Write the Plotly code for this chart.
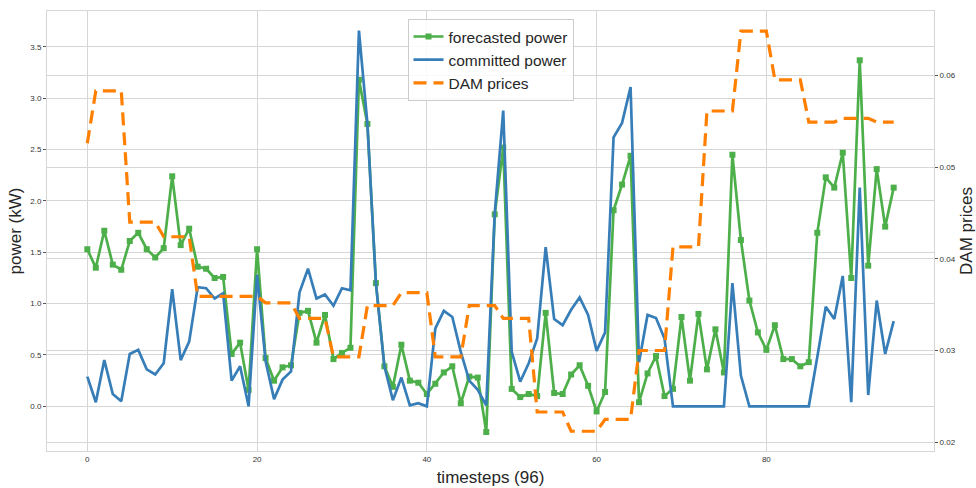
import plotly.graph_objects as go

# 96 quarter-hour timesteps
timesteps = list(range(96))

forecasted_power = [
    1.53, 1.35, 1.71, 1.38, 1.33, 1.61, 1.69, 1.53, 1.45, 1.54,
    2.24, 1.57, 1.73, 1.36, 1.34, 1.25, 1.26, 0.51, 0.62, 0.16,
    1.53, 0.47, 0.25, 0.38, 0.40, 0.91, 0.93, 0.62, 0.89, 0.46,
    0.52, 0.57, 3.18, 2.75, 1.20, 0.39, 0.19, 0.60, 0.25, 0.23,
    0.12, 0.22, 0.33, 0.39, 0.03, 0.29, 0.28, -0.25, 1.87, 2.52,
    0.17, 0.09, 0.12, 0.10, 0.91, 0.13, 0.12, 0.31, 0.40, 0.20,
    -0.05, 0.14, 1.91, 2.16, 2.44, 0.04, 0.32, 0.49, 0.10, 0.17,
    0.87, 0.25, 0.90, 0.36, 0.75, 0.33, 2.45, 1.62, 1.03, 0.72,
    0.55, 0.79, 0.46, 0.46, 0.39, 0.43, 1.69, 2.23, 2.13, 2.47,
    1.25, 3.37, 1.37, 2.31, 1.75, 2.13,
]

committed_power = [
    0.29, 0.04, 0.45, 0.12, 0.05, 0.51, 0.55, 0.36, 0.31, 0.42,
    1.14, 0.45, 0.63, 1.16, 1.15, 1.05, 1.10, 0.25, 0.39, 0.00,
    1.28, 0.44, 0.07, 0.26, 0.34, 1.11, 1.34, 1.05, 1.09, 0.98,
    1.15, 1.13, 3.66, 2.75, 1.20, 0.39, 0.06, 0.28, 0.01, 0.03,
    0.00, 0.76, 0.93, 0.87, 0.53, 0.25, 0.16, 0.01, 1.88, 2.88,
    0.53, 0.24, 0.42, 0.66, 1.55, 0.85, 0.79, 0.94, 1.06, 0.89,
    0.54, 0.72, 2.62, 2.76, 3.11, 0.43, 0.89, 0.86, 0.66, 0.00,
    0.00, 0.00, 0.00, 0.00, 0.00, 0.00, 1.20, 0.30, 0.00, 0.00,
    0.00, 0.00, 0.00, 0.00, 0.00, 0.00, 0.48, 0.97, 0.85, 1.27,
    0.04, 2.13, 0.11, 1.03, 0.51, 0.83,
]

# Day-ahead market prices, one value per hour (timestep 0 belongs to the previous hour)
first_price = [0.0526]
hourly_prices = [
    0.0583, 0.0440, 0.0424, 0.0359, 0.0359, 0.0352, 0.0335, 0.0293,
    0.0349, 0.0363, 0.0293, 0.0349, 0.0335, 0.0233, 0.0212, 0.0225,
    0.0300, 0.0413, 0.0561, 0.0648, 0.0595, 0.0549, 0.0553, 0.0549,
]
dam_prices = (first_price + [p for p in hourly_prices for _ in range(4)])[:96]

power_ticks = [0.0, 0.5, 1.0, 1.5, 2.0, 2.5, 3.0, 3.5]
price_ticks = [0.02, 0.03, 0.04, 0.05, 0.06]
step_ticks = [0, 20, 40, 60, 80]

GREEN = "#4daf4a"
BLUE = "#377eb8"
ORANGE = "#ff7f00"
GRID = "#d6d6d6"
FONT = "Liberation Sans, Arial, sans-serif"
TEXT = "#262626"

fig = go.Figure()

fig.add_trace(go.Scatter(
    x=timesteps, y=forecasted_power, name="forecasted power",
    mode="lines+markers",
    line=dict(color=GREEN, width=2.7),
    marker=dict(symbol="square", size=6, color=GREEN),
))
fig.add_trace(go.Scatter(
    x=timesteps, y=committed_power, name="committed power",
    mode="lines",
    line=dict(color=BLUE, width=2.7),
))
fig.add_trace(go.Scatter(
    x=timesteps, y=dam_prices, name="DAM prices",
    mode="lines", yaxis="y2",
    line=dict(color=ORANGE, width=3.2, dash="13px,7px"),
))

axis_common = dict(
    showgrid=True, gridcolor=GRID, gridwidth=1, zeroline=False,
    automargin=False,
    tickfont=dict(family=FONT, size=8, color="#333333"),
)

fig.update_layout(
    width=976, height=488,
    margin=dict(l=47, r=42, t=11, b=37),
    paper_bgcolor="white", plot_bgcolor="white",
    font=dict(family=FONT, color=TEXT),
    showlegend=True,
    legend=dict(
        x=0.5, y=0.982, xanchor="center", yanchor="top",
        bgcolor="rgba(255,255,255,0.85)", bordercolor="#cccccc", borderwidth=1,
        font=dict(family=FONT, size=15.5, color=TEXT),
        tracegroupgap=0, itemwidth=30,
    ),
    xaxis=dict(
        range=[-4.75, 99.75], tickvals=step_ticks,
        title=dict(text="timesteps (96)", font=dict(family=FONT, size=17, color=TEXT), standoff=8),
        showline=True, linecolor=GRID, linewidth=1, mirror=True,
        ticks="", ticklen=0,
        **axis_common,
    ),
    yaxis=dict(
        range=[-0.435, 3.85], tickvals=power_ticks, tickformat=".1f",
        title=dict(text="power (kW)", font=dict(family=FONT, size=17, color=TEXT), standoff=4),
        showline=True, linecolor=GRID, linewidth=1,
        ticks="outside", ticklen=3, tickcolor="#555555",
        **axis_common,
    ),
    yaxis2=dict(
        range=[0.01905, 0.0670], tickvals=price_ticks, tickformat=".2f",
        overlaying="y", side="right", anchor="x",
        title=dict(text="DAM prices", font=dict(family=FONT, size=17, color=TEXT), standoff=6),
        showline=True, linecolor=GRID, linewidth=1,
        ticks="outside", ticklen=3, tickcolor="#555555",
        **axis_common,
    ),
)

fig.write_html("out.html")
